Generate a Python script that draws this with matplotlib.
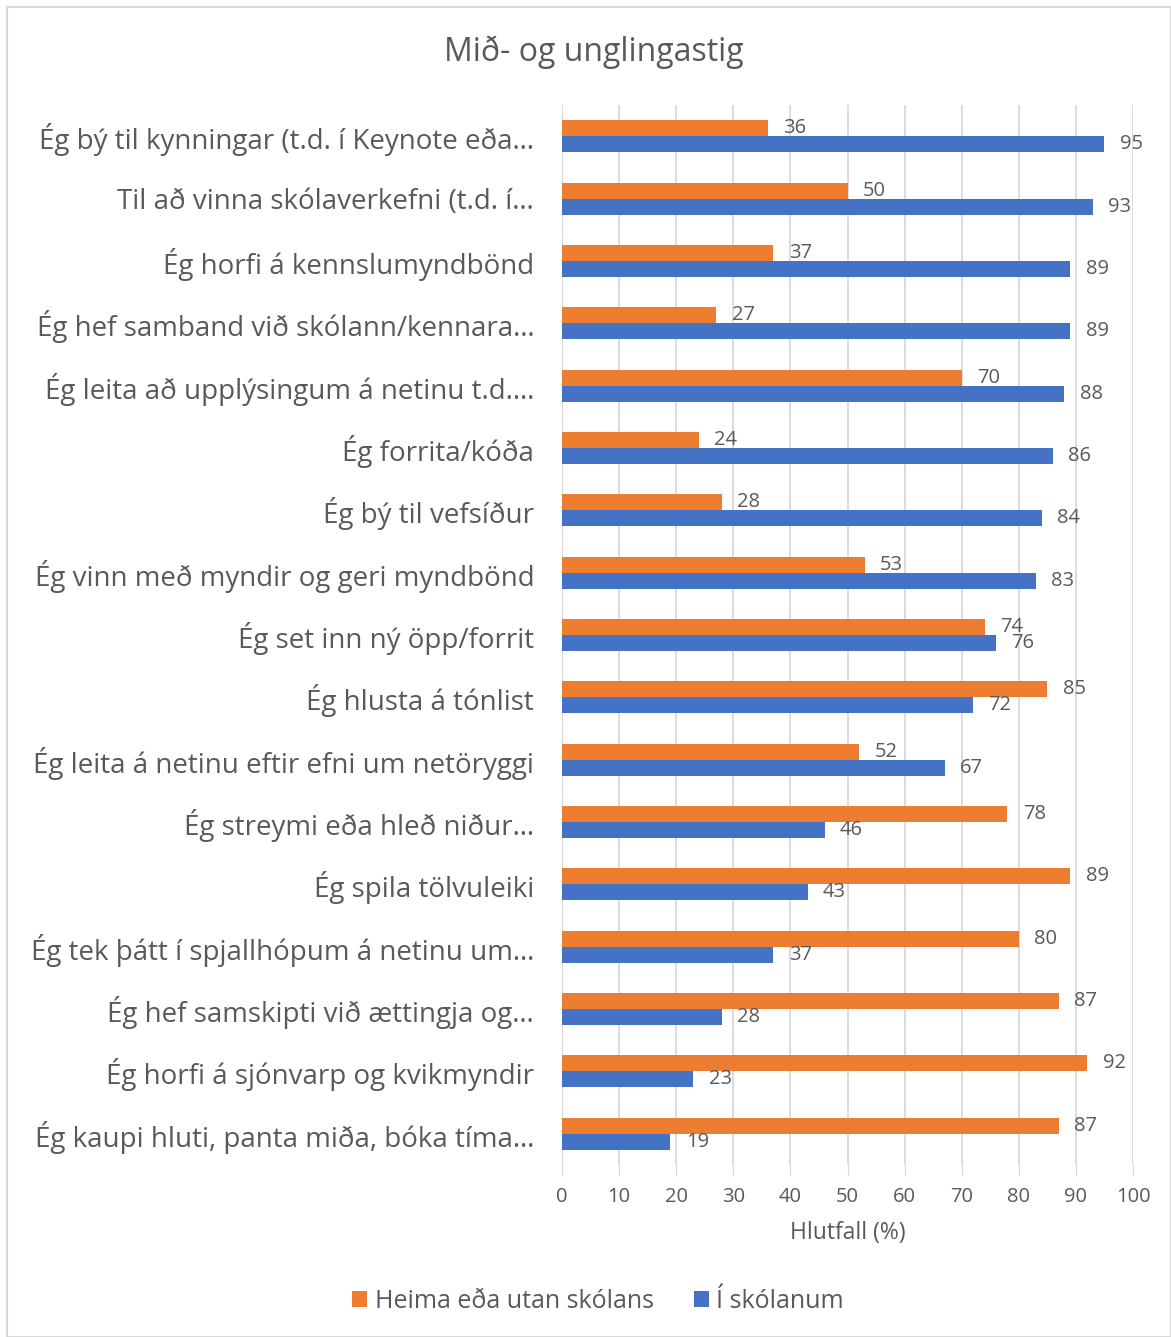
import numpy as np
import matplotlib.pyplot as plt
from matplotlib.patches import Rectangle

plt.rcParams['font.family'] = ['Open Sans', 'DejaVu Sans']

categories = [
    'Ég bý til kynningar (t.d. í Keynote eða…',
    'Til að vinna skólaverkefni (t.d. í…',
    'Ég horfi á kennslumyndbönd',
    'Ég hef samband við skólann/kennara…',
    'Ég leita að upplýsingum á netinu t.d.…',
    'Ég forrita/kóða',
    'Ég bý til vefsíður',
    'Ég vinn með myndir og geri myndbönd',
    'Ég set inn ný öpp/forrit',
    'Ég hlusta á tónlist',
    'Ég leita á netinu eftir efni um netöryggi',
    'Ég streymi eða hleð niður…',
    'Ég spila tölvuleiki',
    'Ég tek þátt í spjallhópum á netinu um…',
    'Ég hef samskipti við ættingja og…',
    'Ég horfi á sjónvarp og kvikmyndir',
    'Ég kaupi hluti, panta miða, bóka tíma…',
]
heima = [36, 50, 37, 27, 70, 24, 28, 53, 74, 85, 52, 78, 89, 80, 87, 92, 87]
skola = [95, 93, 89, 89, 88, 86, 84, 83, 76, 72, 67, 46, 43, 37, 28, 23, 19]
series_names = ['Heima eða utan skólans', 'Í skólanum']
xticks = list(range(0, 101, 10))

ORANGE = '#ED7D31'
BLUE = '#4472C4'
GREY = '#595959'

fig = plt.figure(figsize=(11.71, 13.37), dpi=100)
ax = fig.add_axes([562 / 1171, 1 - 1165 / 1337, (1133 - 562) / 1171, (1165 - 105) / 1337])

y = np.arange(len(categories))
h = 0.257
b1 = ax.barh(y - h / 2, heima, height=h, color=ORANGE, label=series_names[0], zorder=3)
b2 = ax.barh(y + h / 2, skola, height=h, color=BLUE, label=series_names[1], zorder=3)

for rect, v in zip(b1, heima):
    ax.text(v + 2.7, rect.get_y() + rect.get_height() / 2, str(v), va='center', ha='left',
            fontsize=14.5, color=GREY)
for rect, v in zip(b2, skola):
    ax.text(v + 2.7, rect.get_y() + rect.get_height() / 2, str(v), va='center', ha='left',
            fontsize=14.5, color=GREY)

ax.set_xlim(0, 100)
ax.set_ylim(len(categories) - 0.5, -0.5)
ax.set_xticks(xticks)
ax.set_xticklabels([str(t) for t in xticks], fontsize=14.5, color=GREY)
ax.set_yticks(y)
ax.set_yticklabels(categories, fontsize=20, color=GREY)
ax.tick_params(axis='y', length=0, pad=20)
ax.tick_params(axis='x', length=8, color='#D9D9D9', pad=8)
ax.grid(axis='x', color='#D9D9D9', linewidth=1.3, zorder=0)
for s in ['top', 'right', 'bottom']:
    ax.spines[s].set_visible(False)
ax.spines['left'].set_color('#D9D9D9')
ax.set_xlabel('Hlutfall (%)', fontsize=16.5, color=GREY, labelpad=10)

fig.text(594 / 1171, 1 - 52 / 1337, 'Mið- og unglingastig', ha='center', va='center',
         fontsize=23, color=GREY)

fig.legend(handles=[b1, b2], loc='center', bbox_to_anchor=(598 / 1171, 1 - 1301 / 1337), ncol=2,
           frameon=False, fontsize=18, labelcolor=GREY, handlelength=0.6, handleheight=0.6,
           handletextpad=0.3, columnspacing=1.6)

fig.patches.append(Rectangle((7 / 1171, 0), 1 - 7 / 1171, 1 - 7 / 1337, transform=fig.transFigure,
                             fill=False, edgecolor='#D9D9D9', linewidth=1.5))

fig.savefig('out.png', dpi=100)
